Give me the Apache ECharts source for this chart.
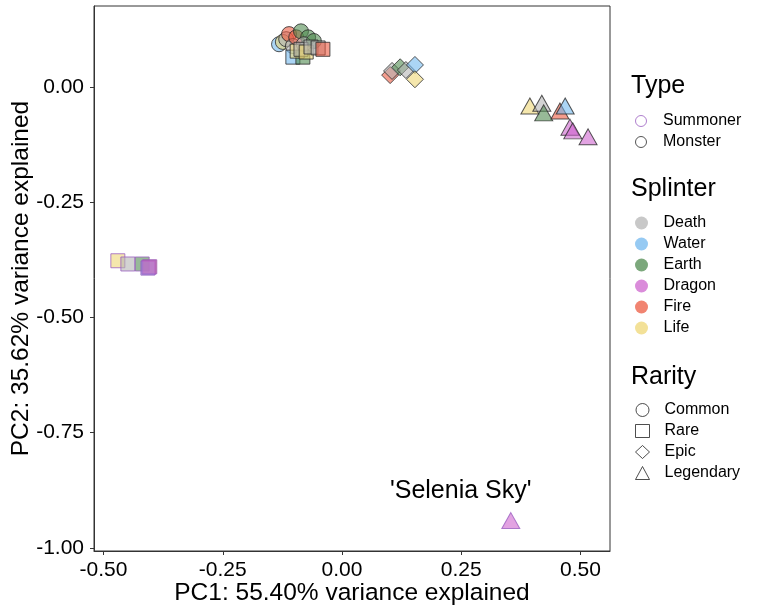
<!DOCTYPE html>
<html><head><meta charset="utf-8">
<script src="https://cdn.jsdelivr.net/npm/echarts@6/dist/echarts.min.js"></script>
<style>html,body{margin:0;padding:0;background:#fff}#c{width:768px;height:611px}</style>
</head><body><div id="c"></div>
<script>
// ---- data ----
const pc1 = [
 -0.132,-0.124,-0.117,-0.111,-0.103,-0.096,-0.086,-0.071,-0.080,-0.059,
 -0.103,-0.082,-0.094,-0.086,-0.075,-0.065,-0.050,-0.040,
 0.101,0.105,0.122,0.134,0.153,0.153,
 0.394,0.419,0.423,0.457,0.468,0.478,0.484,0.516,
 -0.470,-0.449,-0.419,-0.403,-0.407,-0.405,
 0.354];
const pc2 = [
 0.093,0.098,0.104,0.115,0.089,0.108,0.121,0.108,0.093,0.100,
 0.065,0.065,0.078,0.082,0.076,0.087,0.085,0.082,
 0.026,0.035,0.043,0.037,0.048,0.017,
 -0.041,-0.035,-0.056,-0.052,-0.041,-0.087,-0.095,-0.108,
 -0.377,-0.384,-0.384,-0.390,-0.393,-0.391,
 -0.941];
const splinter = [
 'Water','Life','Death','Fire','Death','Fire','Earth','Earth','Death','Earth',
 'Water','Earth','Life','Death','Life','Death','Death','Fire',
 'Fire','Death','Earth','Death','Water','Life',
 'Life','Death','Earth','Fire','Water','Dragon','Dragon','Dragon',
 'Life','Death','Earth','Fire','Water','Dragon',
 'Dragon'];
const rarity = [
 'Common','Common','Common','Common','Common','Common','Common','Common','Common','Common',
 'Rare','Rare','Rare','Rare','Rare','Rare','Rare','Rare',
 'Epic','Epic','Epic','Epic','Epic','Epic',
 'Legendary','Legendary','Legendary','Legendary','Legendary','Legendary','Legendary','Legendary',
 'Rare','Rare','Rare','Rare','Rare','Rare',
 'Legendary'];
const cardType = [
 'Monster','Monster','Monster','Monster','Monster','Monster','Monster','Monster','Monster','Monster',
 'Monster','Monster','Monster','Monster','Monster','Monster','Monster','Monster',
 'Monster','Monster','Monster','Monster','Monster','Monster',
 'Monster','Monster','Monster','Monster','Monster','Monster','Monster','Monster',
 'Summoner','Summoner','Summoner','Summoner','Summoner','Summoner',
 'Summoner'];
const typeNames = ['Summoner','Monster'];
const splinterNames = ['Death','Water','Earth','Dragon','Fire','Life'];
const rarityNames = ['Common','Rare','Epic','Legendary'];
const xTicks = [-0.5,-0.25,0,0.25,0.5];
const yTicks = [-1,-0.75,-0.5,-0.25,0];
const annotText = ["'Selenia Sky'"];
const annotPos = [[0.249,-0.876]];

// ---- styles ----
const FONT = "'Liberation Sans', Arial, sans-serif";
const splColor = {Death:[179,179,179],Water:[110,182,238],Earth:[74,135,74],Dragon:[204,96,204],Fire:[236,84,58],Life:[238,214,112]};
const typeBorder = {Summoner:'#9b5fc0', Monster:'#2a2a2a'};
const rarSymbol = {Common:'circle',Rare:'rect',Epic:'diamond',Legendary:'triangle'};
const rarSize = {Common:15,Rare:14,Epic:17,Legendary:[18,16]};
const rgba = (c,a)=>`rgba(${c[0]},${c[1]},${c[2]},${a})`;

const pts = pc1.map((x,i)=>({
  value:[x,pc2[i]],
  symbol: rarSymbol[rarity[i]],
  symbolSize: rarSize[rarity[i]],
  itemStyle:{color: rgba(splColor[splinter[i]],0.72), borderColor: typeBorder[cardType[i]], borderWidth:1}
}));

const series = [{
  type:'scatter', name:'cards', data: pts, silent:true, z:3
},{
  type:'scatter', name:'annot', data: annotPos.map((p,i)=>({value:p, label:{show:true, formatter:annotText[i]}})),
  symbolSize:1, silent:true, z:4, itemStyle:{color:'rgba(0,0,0,0)'},
  label:{show:true, position:'inside', color:'#000', opacity:1, textBorderWidth:0, fontSize:25, fontFamily:FONT}
}];
// dummy series for legends
typeNames.concat(splinterNames, rarityNames).forEach(n=>series.push({type:'scatter', name:n, data:[]}));

const legBase = {orient:'vertical', left:635, padding:0, selectedMode:false, itemWidth:14, itemHeight:13, itemGap:5,
  textStyle:{fontSize:16, fontFamily:FONT, color:'#000', padding:[0,0,0,10]}};
const titleStyle = {fontSize:25, fontWeight:'normal', fontFamily:FONT, color:'#000'};

const option = {
  animation:false,
  grid:{left:94, right:158, top:6, bottom:60, containLabel:false, outerBoundsMode:'none',
    show:true, borderColor:'#333', borderWidth:1, backgroundColor:'#fff'},
  xAxis:{type:'value', min:-0.520, max:0.562,
    name:'PC1: 55.40% variance explained', nameLocation:'middle', nameGap:30, nameMoveOverlap:false,
    nameTextStyle:{fontSize:24.5, fontFamily:FONT, color:'#000'},
    axisLine:{show:true, onZero:false, lineStyle:{color:'#333'}},
    axisTick:{show:true, customValues:xTicks, length:4, lineStyle:{color:'#333'}},
    axisLabel:{customValues:xTicks, fontSize:21, fontFamily:FONT, color:'#000', margin:9, formatter:v=>v.toFixed(2)},
    splitLine:{show:false}},
  yAxis:{type:'value', min:-1.007, max:0.176,
    name:'PC2: 35.62% variance explained', nameLocation:'middle', nameGap:60, nameRotate:90, nameMoveOverlap:false,
    nameTextStyle:{fontSize:24.5, fontFamily:FONT, color:'#000'},
    axisLine:{show:true, onZero:false, lineStyle:{color:'#333'}},
    axisTick:{show:true, customValues:yTicks, length:4, lineStyle:{color:'#333'}},
    axisLabel:{customValues:yTicks, fontSize:21, fontFamily:FONT, color:'#000', margin:10, formatter:v=>v.toFixed(2)},
    splitLine:{show:false}},
  title:[
    {text:'Type', left:631, top:74, textStyle:titleStyle, padding:0},
    {text:'Splinter', left:631, top:177, textStyle:titleStyle, padding:0},
    {text:'Rarity', left:631, top:365, textStyle:titleStyle, padding:0}
  ],
  legend:[
    Object.assign({}, legBase, {top:113, itemHeight:11, data: typeNames.map(n=>({name:n, icon:'circle',
      itemStyle:{color:'rgba(0,0,0,0)', borderColor:typeBorder[n], borderWidth:1}}))}),
    Object.assign({}, legBase, {top:215, data: splinterNames.map(n=>({name:n, icon:'circle',
      itemStyle:{color:rgba(splColor[n],0.9), borderWidth:0}}))}),
    Object.assign({}, legBase, {top:402, data: rarityNames.map(n=>({name:n, icon:rarSymbol[n],
      itemStyle:{color:'rgba(0,0,0,0)', borderColor:'#222', borderWidth:1}}))})
  ],
  series: series
};
const chart = echarts.init(document.getElementById('c'), null, {renderer:'canvas'});
chart.setOption(option);
</script></body></html>
